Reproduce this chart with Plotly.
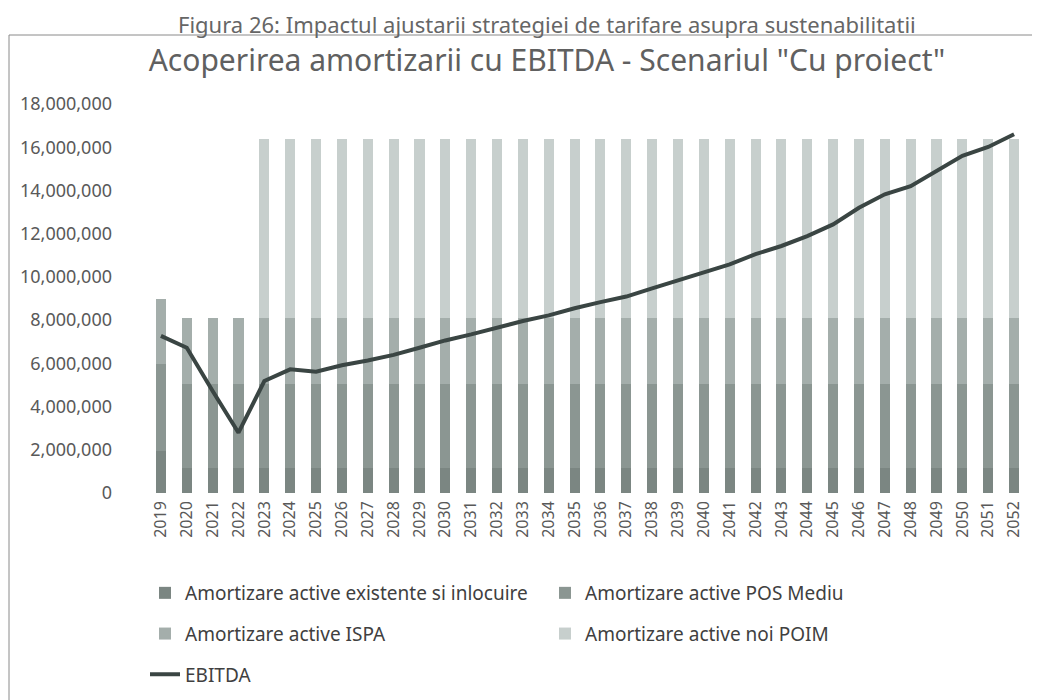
import plotly.graph_objects as go

years = ["2019", "2020", "2021", "2022", "2023", "2024", "2025", "2026", "2027", "2028",
         "2029", "2030", "2031", "2032", "2033", "2034", "2035", "2036", "2037", "2038",
         "2039", "2040", "2041", "2042", "2043", "2044", "2045", "2046", "2047", "2048",
         "2049", "2050", "2051", "2052"]

existente = [1950000, 1170000, 1170000, 1170000, 1170000, 1170000, 1170000, 1170000, 1170000, 1170000,
             1170000, 1170000, 1170000, 1170000, 1170000, 1170000, 1170000, 1170000, 1170000, 1170000,
             1170000, 1170000, 1170000, 1170000, 1170000, 1170000, 1170000, 1170000, 1170000, 1170000,
             1170000, 1170000, 1170000, 1170000]

pos_mediu = [4020000, 3860000, 3860000, 3860000, 3860000, 3860000, 3860000, 3860000, 3860000, 3860000,
             3860000, 3860000, 3860000, 3860000, 3860000, 3860000, 3860000, 3860000, 3860000, 3860000,
             3860000, 3860000, 3860000, 3860000, 3860000, 3860000, 3860000, 3860000, 3860000, 3860000,
             3860000, 3860000, 3860000, 3860000]

ispa = [3030000, 3070000, 3070000, 3070000, 3070000, 3070000, 3070000, 3070000, 3070000, 3070000,
        3070000, 3070000, 3070000, 3070000, 3070000, 3070000, 3070000, 3070000, 3070000, 3070000,
        3070000, 3070000, 3070000, 3070000, 3070000, 3070000, 3070000, 3070000, 3070000, 3070000,
        3070000, 3070000, 3070000, 3070000]

poim = [0, 0, 0, 0, 8300000, 8300000, 8300000, 8300000, 8300000, 8300000,
        8300000, 8300000, 8300000, 8300000, 8300000, 8300000, 8300000, 8300000, 8300000, 8300000,
        8300000, 8300000, 8300000, 8300000, 8300000, 8300000, 8300000, 8300000, 8300000, 8300000,
        8300000, 8300000, 8300000, 8300000]

ebitda = [7270000, 6720000, 4720000, 2790000, 5180000, 5720000, 5610000, 5910000, 6130000, 6390000,
          6720000, 7060000, 7340000, 7650000, 7960000, 8220000, 8550000, 8830000, 9090000, 9470000,
          9840000, 10200000, 10580000, 11050000, 11430000, 11890000, 12430000, 13200000, 13820000, 14200000,
          14900000, 15600000, 16010000, 16600000]

names = ["Amortizare active existente si inlocuire", "Amortizare active POS Mediu",
         "Amortizare active ISPA", "Amortizare active noi POIM", "EBITDA"]

FONT = "Noto Sans"
TXT = "#595959"

W, H = 1040, 700
L, R, T, B = 140, 21, 96, 215
PW, PH = W - L - R, H - T - B


def px_x(px):
    return (px - L) / PW


def px_y(py):
    return (H - B - py) / PH


fig = go.Figure()
bar_specs = [
    (existente, names[0], "#7b8682", "legend", "g1"),
    (pos_mediu, names[1], "#8b9692", "legend2", "g2"),
    (ispa, names[2], "#a4aeab", "legend", "g3"),
    (poim, names[3], "#c7cfcd", "legend2", "g4"),
]
for vals, nm, col, lg, grp in bar_specs:
    fig.add_trace(go.Bar(x=years, y=vals, name=nm, marker=dict(color=col, line=dict(width=0)),
                         legend=lg, legendgroup=grp))

fig.add_trace(go.Scatter(x=years, y=ebitda, name=names[4], mode="lines",
                         line=dict(color="#3a4543", width=4), legend="legend", legendgroup="g5"))

legend_common = dict(font=dict(family=FONT, size=19, color="#404040"), orientation="v",
                     traceorder="grouped", tracegroupgap=13, bgcolor="rgba(0,0,0,0)",
                     xanchor="left", yanchor="top")

fig.update_layout(
    width=W, height=H,
    margin=dict(l=L, r=R, t=T, b=B, autoexpand=False),
    paper_bgcolor="white", plot_bgcolor="white",
    barmode="stack", bargap=0.61,
    title=dict(text='Acoperirea amortizarii cu EBITDA - Scenariul "Cu proiect"',
               x=539 / W, xanchor="center", y=1 - 52 / H, yanchor="middle",
               font=dict(family=FONT, size=30, color="#606060")),
    xaxis=dict(type="category", tickangle=-90, showgrid=False, showline=False, ticks="",
               automargin=False,
               tickfont=dict(family=FONT, size=16, color=TXT), ticklabelstandoff=4),
    yaxis=dict(range=[0, 18000000], dtick=2000000, tickformat=",", showgrid=False,
               showline=False, zeroline=False, ticks="", automargin=False,
               tickfont=dict(family=FONT, size=18, color=TXT), ticklabelstandoff=35),
    legend=dict(x=px_x(137), y=px_y(566), **legend_common),
    legend2=dict(x=px_x(537), y=px_y(566), **legend_common),
    showlegend=True,
)

fig.add_annotation(text="Figura 26: Impactul ajustarii strategiei de tarifare asupra sustenabilitatii",
                   xref="paper", yref="paper", x=px_x(539), y=px_y(0), xanchor="center",
                   yanchor="top", showarrow=False, borderpad=0,
                   font=dict(family=FONT, size=22, color="#666666"))

fig.add_shape(type="line", xref="paper", yref="paper", x0=px_x(1), x1=px_x(1040),
              y0=px_y(27), y1=px_y(27), line=dict(color="#8a8a8a", width=1))
fig.add_shape(type="line", xref="paper", yref="paper", x0=px_x(1), x1=px_x(1),
              y0=px_y(27), y1=px_y(700), line=dict(color="#8a8a8a", width=1))

fig.write_html("out.html")
